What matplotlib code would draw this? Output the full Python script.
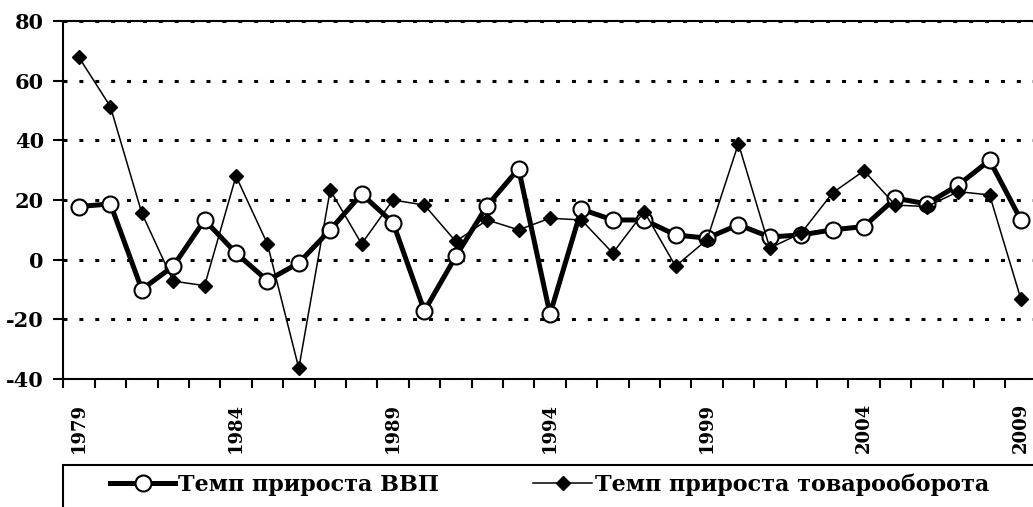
import numpy as np
import matplotlib
matplotlib.use("Agg")
import matplotlib.pyplot as plt
from matplotlib.lines import Line2D
from matplotlib.patches import Rectangle
from matplotlib.ticker import FixedLocator, FixedFormatter

years = list(range(1979, 2010))
gdp_growth = [17.8, 18.7, -10, -2.2, 13.3, 2.2, -7, -1.1, 10, 22, 12.4,
              -17.2, 1.1, 18.1, 30.5, -18.3, 16.9, 13.3, 13.3, 8.3, 7.2,
              11.7, 7.6, 8.3, 10, 11.1, 20.6, 18.7, 25, 33.3, 13.3]
trade_growth = [67.8, 51.3, 15.6, -7.2, -8.7, 28, 5.3, -36.4, 23.3, 5.3, 20,
                18.3, 6.1, 13.3, 10, 13.9, 13.3, 2.2, 16.1, -2.2, 6.7,
                38.9, 3.9, 8.9, 22.4, 29.8, 18.3, 17.8, 22.8, 21.7, -13.3]
label_gdp = "Темп прироста ВВП"
label_trade = "Темп прироста товарооборота"
y_ticks = [-40, -20, 0, 20, 40, 60, 80]
x_label_years = [1979, 1984, 1989, 1994, 1999, 2004, 2009]

W, H = 1033, 507
font = "DejaVu Serif"

fig = plt.figure(figsize=(W / 100, H / 100), dpi=100)
ax = fig.add_axes([63.3 / W, 1 - 379 / H, 973.4 / W, 358 / H])

# thick GDP line, thin trade line on top
gdp_line, = ax.plot(years, gdp_growth, "-", color="black", lw=3.6,
                    marker="o", ms=11.5, mfc="white", mec="black", mew=1.5,
                    zorder=3)
trade_line, = ax.plot(years, trade_growth, "-", color="black", lw=1.1,
                      marker="D", ms=7.5, mfc="black", mec="black", zorder=4)

ax.set_xlim(1978.5, 2009.5)
ax.set_ylim(-40, 80)

# dotted horizontal grid
ax.grid(axis="y", color="black", lw=2.2, linestyle=(0, (1.3, 3.9)))
ax.set_axisbelow(True)

for side in ["left", "bottom", "top"]:
    ax.spines[side].set_linewidth(1.5)
ax.spines["right"].set_visible(False)

ax.yaxis.set_major_locator(FixedLocator(y_ticks))
ax.yaxis.set_major_formatter(FixedFormatter([str(v) for v in y_ticks]))
ax.tick_params(axis="y", direction="out", length=7, width=1.5, pad=7)
for lab in ax.get_yticklabels():
    lab.set_fontfamily(font)
    lab.set_fontweight("bold")
    lab.set_fontsize(15)

# tick marks between categories, labels at every fifth year
ax.xaxis.set_minor_locator(FixedLocator(np.arange(1978.5, 2010, 1.0)))
ax.xaxis.set_major_locator(FixedLocator(x_label_years))
ax.xaxis.set_major_formatter(FixedFormatter([str(y) for y in x_label_years]))
ax.tick_params(axis="x", which="minor", direction="out", length=6.5, width=1.5)
ax.tick_params(axis="x", which="major", length=0, pad=17)
for lab in ax.get_xticklabels():
    lab.set_fontfamily(font)
    lab.set_fontweight("bold")
    lab.set_fontsize(13)
    lab.set_rotation(90)

# legend box running off the page edge
fig.patches.append(Rectangle((63 / W, -0.1), 1.1, 1 - 465 / H + 0.1,
                             transform=fig.transFigure, fill=False,
                             lw=1.5, ec="black", clip_on=False))

legend_font = {"family": font, "weight": "bold", "size": 16}
h_gdp = Line2D([], [], color="black", lw=3.6, marker="o", ms=11.5,
               mfc="white", mec="black", mew=1.5)
h_trade = Line2D([], [], color="black", lw=1.1, marker="D", ms=7.5,
                 mfc="black", mec="black")
fig.legend([h_gdp], [label_gdp], loc="center left",
           bbox_to_anchor=(110 / W, 1 - 485 / H), frameon=False,
           borderpad=0, borderaxespad=0, handlelength=2.93,
           handletextpad=0.15, prop=legend_font)
fig.legend([h_trade], [label_trade], loc="center left",
           bbox_to_anchor=(533 / W, 1 - 485 / H), frameon=False,
           borderpad=0, borderaxespad=0, handlelength=2.66,
           handletextpad=0.15, prop=legend_font)

fig.savefig("out.png", dpi=100)
plt.close(fig)
